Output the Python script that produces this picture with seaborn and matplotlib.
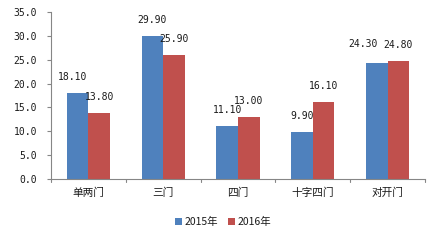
import matplotlib
matplotlib.use("Agg")
import matplotlib.pyplot as plt
import seaborn as sns
import pandas as pd

categories = ["单两门", "三门", "四门", "十字四门", "对开门"]
series_names = ["2015年", "2016年"]
values_2015 = [18.10, 29.90, 11.10, 9.90, 24.30]
values_2016 = [13.80, 25.90, 13.00, 16.10, 24.80]
yticks = [0, 5, 10, 15, 20, 25, 30, 35]
colors = ["#4F81BD", "#C0504D"]

df = pd.DataFrame({
    "cat": categories * 2,
    "year": [series_names[0]] * 5 + [series_names[1]] * 5,
    "val": values_2015 + values_2016,
})

sns.set_style("white")
plt.rcParams['font.family'] = ['Noto Sans CJK SC', 'DejaVu Sans']
mono = ['DejaVu Sans Mono']
txtc = "#1a1a1a"

fig = plt.figure(figsize=(4.36, 2.42), dpi=100)
ax = fig.add_axes([51/436, 1 - 179/242, (425-51)/436, (179-12)/242])

sns.barplot(data=df, x="cat", y="val", hue="year", palette=colors,
            width=0.58, ax=ax, saturation=1, legend=True, edgecolor="none")

anns = []
for cont in ax.containers:
    a = ax.bar_label(cont, labels=[f"{v:.2f}" for v in cont.datavalues],
                     padding=8, fontsize=7, color=txtc, family=mono)
    anns.append(a)
# small manual nudges to match the reference label placement
anns[0][0].xyann = (-3.5, 8)
anns[0][4].xyann = (-10, 10)

ax.set_ylim(0, 35)
ax.set_xlim(-0.5, 4.5)
ax.set_yticks(yticks)
ax.set_yticklabels([f"{t:.1f}" for t in yticks], fontsize=7, color=txtc, family=mono)
ax.tick_params(axis="y", length=3, width=0.8, color="#868686", pad=7, left=True)
ax.set_xticks([0, 1, 2, 3, 4])
ax.set_xticklabels(categories, fontsize=7.7, color=txtc)
ax.tick_params(axis="x", length=0, pad=6)
for b in [-0.5, 0.5, 1.5, 2.5, 3.5, 4.5]:
    ax.plot([b, b], [0, -0.02], transform=ax.get_xaxis_transform(),
            color="#868686", lw=0.8, clip_on=False)
ax.set_xlabel("")
ax.set_ylabel("")
for s in ["top", "right"]:
    ax.spines[s].set_visible(False)
for s in ["left", "bottom"]:
    ax.spines[s].set_color("#868686")
    ax.spines[s].set_linewidth(0.8)

leg = ax.get_legend()
handles = leg.legend_handles
leg.remove()
fig.legend(handles, series_names, loc="center", bbox_to_anchor=(223/436, 1 - 222/242),
           ncol=2, frameon=False, fontsize=7.5, handlelength=0.7, handleheight=0.7,
           handletextpad=0.2, columnspacing=1.0, labelcolor=txtc)

fig.savefig("out.png", dpi=100)
